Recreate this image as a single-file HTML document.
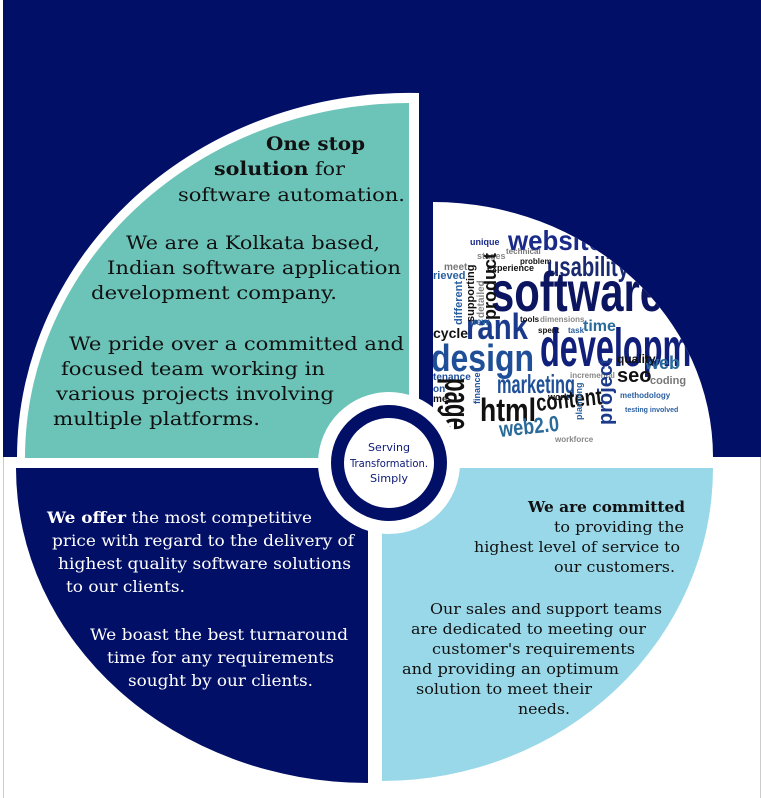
<!DOCTYPE html>
<html><head><meta charset="utf-8"><style>
html,body{margin:0;padding:0;background:#fff;}
svg{display:block;}
.s{font-family:"DejaVu Serif","Liberation Serif",serif;}
.w{font-family:"Liberation Sans","DejaVu Sans",sans-serif;font-weight:bold;}
</style></head><body>
<svg width="761" height="798" viewBox="0 0 761 798" xmlns="http://www.w3.org/2000/svg">
<defs>
<clipPath id="wc"><path d="M433,457 L433,202 A280,255 0 0 1 713,457 Z"/></clipPath>
</defs>
<rect x="0" y="0" width="761" height="798" fill="#fff"/>
<rect x="3" y="0" width="758" height="457" fill="#020f66"/>
<line x1="3.5" y1="457" x2="3.5" y2="798" stroke="#ccc"/>
<line x1="760.5" y1="457" x2="760.5" y2="798" stroke="#ccc"/>
<path d="M419,458 L419,93 A392,365 0 0 0 17,458 Z" fill="#fff"/>
<path d="M409,458 L409,103 A384,355 0 0 0 25,458 Z" fill="#6cc3b8"/>
<path d="M433,457 L433,202 A280,255 0 0 1 713,457 Z" fill="#fff"/>
<g clip-path="url(#wc)" class="w">
<text x="508" y="250" font-size="28" fill="#1a2a8a" textLength="95" lengthAdjust="spacingAndGlyphs">website</text>
<text x="470" y="245" font-size="9" fill="#1a2a8a">unique</text>
<text x="506" y="254" font-size="8" fill="#777">technical</text>
<text x="477" y="259" font-size="9" fill="#888">stages</text>
<text x="444" y="270" font-size="10" fill="#777">meet</text>
<text x="487" y="271" font-size="9" fill="#111">experience</text>
<text x="520" y="264" font-size="8" fill="#111">problem</text>
<text x="547" y="276" font-size="28" fill="#1a2a70" textLength="82" lengthAdjust="spacingAndGlyphs">usability</text>
<text x="433" y="279" font-size="11" fill="#2a5fa0">rieved</text>
<text x="491" y="311" font-size="56" fill="#0c1560" textLength="172" lengthAdjust="spacingAndGlyphs">software</text>
<text x="466" y="339" font-size="36" fill="#1b3a8c" textLength="62" lengthAdjust="spacingAndGlyphs">rank</text>
<text x="433" y="338" font-size="14" fill="#111">cycle</text>
<text x="540" y="366" font-size="54" fill="#0f1f7a" textLength="200" lengthAdjust="spacingAndGlyphs">development</text>
<text x="431" y="371" font-size="38" fill="#1e4f98" textLength="103" lengthAdjust="spacingAndGlyphs">design</text>
<text x="583" y="331" font-size="16" fill="#2a6b9a">time</text>
<text x="497" y="393" font-size="26" fill="#1e4f98" textLength="78" lengthAdjust="spacingAndGlyphs">marketing</text>
<text x="433" y="380" font-size="10" fill="#1e4f98">tenance</text>
<text x="433" y="392" font-size="10" fill="#1e4f98">on</text>
<text x="433" y="402" font-size="10" fill="#111">me</text>
<text x="480" y="421" font-size="32" fill="#111" textLength="56" lengthAdjust="spacingAndGlyphs">html</text>
<text x="537" y="411" font-size="24" fill="#111" textLength="66" lengthAdjust="spacingAndGlyphs" transform="rotate(-6 537 411)">content</text>
<text x="500" y="437" font-size="22" fill="#2a6b9a" textLength="60" lengthAdjust="spacingAndGlyphs" transform="rotate(-6 500 437)">web2.0</text>
<text x="617" y="382" font-size="20" fill="#111">seo</text>
<text x="645" y="369" font-size="18" fill="#2a6b9a">web</text>
<text x="617" y="363" font-size="12" fill="#111">quality</text>
<text x="650" y="384" font-size="11" fill="#777">coding</text>
<text x="570" y="378" font-size="8" fill="#888">incremental</text>
<text x="520" y="322" font-size="8" fill="#111">tools</text>
<text x="540" y="322" font-size="8" fill="#888">dimensions</text>
<text x="538" y="333" font-size="8" fill="#111">spent</text>
<text x="568" y="333" font-size="8" fill="#2a5fa0">task</text>
<text x="470" y="325" font-size="10" fill="#2a5fa0">new</text>
<text x="555" y="442" font-size="8" fill="#888">workforce</text>
<text x="620" y="398" font-size="8" fill="#2a5fa0">methodology</text>
<text x="625" y="412" font-size="7" fill="#2a5fa0">testing involved</text>
<text x="548" y="400" font-size="9" fill="#111">work</text>
<text transform="translate(612 425) rotate(-90)" font-size="20" fill="#1b3a8c">project</text>
<text transform="translate(496 320) rotate(-90)" font-size="18" fill="#111">product</text>
<text transform="translate(474 322) rotate(-90)" font-size="11" fill="#111">supporting</text>
<text transform="translate(462 325) rotate(-90)" font-size="11" fill="#2a5fa0">different</text>
<text transform="translate(484 318) rotate(-90)" font-size="10" fill="#888">detailed</text>
<text transform="translate(480 404) rotate(-90)" font-size="9" fill="#1e4f98">finance</text>
<text transform="translate(445 378) rotate(90)" font-size="36" fill="#111" textLength="52" lengthAdjust="spacingAndGlyphs">page</text>
<text transform="translate(582 420) rotate(-90)" font-size="9" fill="#2a5fa0">planning</text>
</g>
<path d="M368,468 L16,468 A352,315 0 0 0 368,783 Z" fill="#020f66"/>
<path d="M382,468 L713,468 A331,313 0 0 1 382,781 Z" fill="#99d8e8"/>
<circle cx="389" cy="463" r="71" fill="#fff"/>
<circle cx="389" cy="463" r="58" fill="#020f66"/>
<circle cx="389" cy="463" r="45" fill="#fff"/>
<g font-family="'DejaVu Sans Condensed','DejaVu Sans','Liberation Sans',sans-serif" font-size="11" fill="#0d1a75" text-anchor="middle">
<text x="389" y="451" textLength="42" lengthAdjust="spacingAndGlyphs">Serving</text>
<text x="389" y="467" textLength="78" lengthAdjust="spacingAndGlyphs">Transformation.</text>
<text x="389" y="482" textLength="38" lengthAdjust="spacingAndGlyphs">Simply</text>
</g>
<g class="s" font-size="19" fill="#111">
<text x="266" y="150" font-weight="bold" textLength="99" lengthAdjust="spacingAndGlyphs">One stop</text>
<text x="214" y="175" textLength="131" lengthAdjust="spacingAndGlyphs"><tspan font-weight="bold">solution</tspan> for</text>
<text x="178" y="201" textLength="227" lengthAdjust="spacingAndGlyphs">software automation.</text>
<text x="126" y="249" textLength="254" lengthAdjust="spacingAndGlyphs">We are a Kolkata based,</text>
<text x="107" y="274" textLength="294" lengthAdjust="spacingAndGlyphs">Indian software application</text>
<text x="91" y="299" textLength="246" lengthAdjust="spacingAndGlyphs">development company.</text>
<text x="69" y="350" textLength="335" lengthAdjust="spacingAndGlyphs">We pride over a committed and</text>
<text x="61" y="375" textLength="264" lengthAdjust="spacingAndGlyphs">focused team working in</text>
<text x="56" y="400" textLength="278" lengthAdjust="spacingAndGlyphs">various projects involving</text>
<text x="53" y="425" textLength="207" lengthAdjust="spacingAndGlyphs">multiple platforms.</text>
</g>
<g class="s" font-size="16" fill="#fff">
<text x="47" y="523" textLength="265" lengthAdjust="spacingAndGlyphs"><tspan font-weight="bold">We offer</tspan> the most competitive</text>
<text x="52" y="546" textLength="302" lengthAdjust="spacingAndGlyphs">price with regard to the delivery of</text>
<text x="58" y="569" textLength="293" lengthAdjust="spacingAndGlyphs">highest quality software solutions</text>
<text x="66" y="592" textLength="119" lengthAdjust="spacingAndGlyphs">to our clients.</text>
<text x="90" y="640" textLength="258" lengthAdjust="spacingAndGlyphs">We boast the best turnaround</text>
<text x="107" y="663" textLength="227" lengthAdjust="spacingAndGlyphs">time for any requirements</text>
<text x="128" y="686" textLength="185" lengthAdjust="spacingAndGlyphs">sought by our clients.</text>
</g>
<g class="s" font-size="15" fill="#111">
<text x="528" y="512" font-weight="bold" textLength="157" lengthAdjust="spacingAndGlyphs">We are committed</text>
<text x="554" y="532" textLength="130" lengthAdjust="spacingAndGlyphs">to providing the</text>
<text x="474" y="552" textLength="206" lengthAdjust="spacingAndGlyphs">highest level of service to</text>
<text x="554" y="572" textLength="121" lengthAdjust="spacingAndGlyphs">our customers.</text>
<text x="430" y="614" textLength="232" lengthAdjust="spacingAndGlyphs">Our sales and support teams</text>
<text x="411" y="634" textLength="235" lengthAdjust="spacingAndGlyphs">are dedicated to meeting our</text>
<text x="432" y="654" textLength="203" lengthAdjust="spacingAndGlyphs">customer's requirements</text>
<text x="402" y="674" textLength="217" lengthAdjust="spacingAndGlyphs">and providing an optimum</text>
<text x="416" y="694" textLength="176" lengthAdjust="spacingAndGlyphs">solution to meet their</text>
<text x="518" y="714" textLength="52" lengthAdjust="spacingAndGlyphs">needs.</text>
</g>
</svg>
</body></html>
